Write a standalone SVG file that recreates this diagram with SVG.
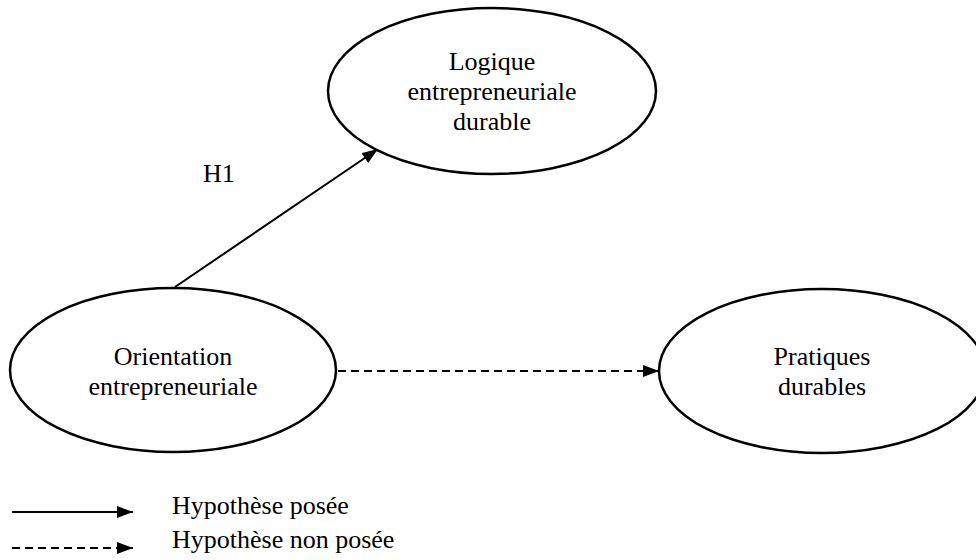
<svg xmlns="http://www.w3.org/2000/svg" width="976" height="560" viewBox="0 0 976 560">
<style>
text{font-family:"Liberation Serif","Times New Roman",serif;font-size:26px;fill:#000}
.n text{text-anchor:middle}
ellipse{fill:#fff;stroke:#000;stroke-width:2.5}
.c{stroke:#000;stroke-width:2;fill:none}
.d{stroke-dasharray:8 5}
</style>
<defs>
<marker id="ah" viewBox="0 0 16 12" refX="16" refY="6" markerWidth="16" markerHeight="12" markerUnits="userSpaceOnUse" orient="auto">
<path d="M0,0 L16,6 L0,12 Z" fill="#000"/>
</marker>
</defs>
<g id="connectors">
<line class="c" x1="175" y1="287" x2="378" y2="149" marker-end="url(#ah)"/>
<line class="c d" x1="338" y1="371" x2="659" y2="371" marker-end="url(#ah)"/>
<text x="203" y="182">H1</text>
</g>
<g id="n-logique" class="n">
<ellipse cx="492" cy="91" rx="164" ry="83"/>
<text x="492" y="70">Logique</text>
<text x="492" y="100">entrepreneuriale</text>
<text x="492" y="130">durable</text>
</g>
<g id="n-orientation" class="n">
<ellipse cx="173" cy="370" rx="163" ry="82"/>
<text x="173" y="365">Orientation</text>
<text x="173" y="395">entrepreneuriale</text>
</g>
<g id="n-pratiques" class="n">
<ellipse cx="822" cy="371" rx="163" ry="82"/>
<text x="822" y="365">Pratiques</text>
<text x="822" y="395">durables</text>
</g>
<g id="legend">
<line class="c" x1="12" y1="512" x2="133" y2="512" marker-end="url(#ah)"/>
<line class="c d" x1="12" y1="548" x2="133" y2="548" marker-end="url(#ah)"/>
<text x="172" y="514">Hypothèse posée</text>
<text x="172" y="548">Hypothèse non posée</text>
</g>
</svg>
